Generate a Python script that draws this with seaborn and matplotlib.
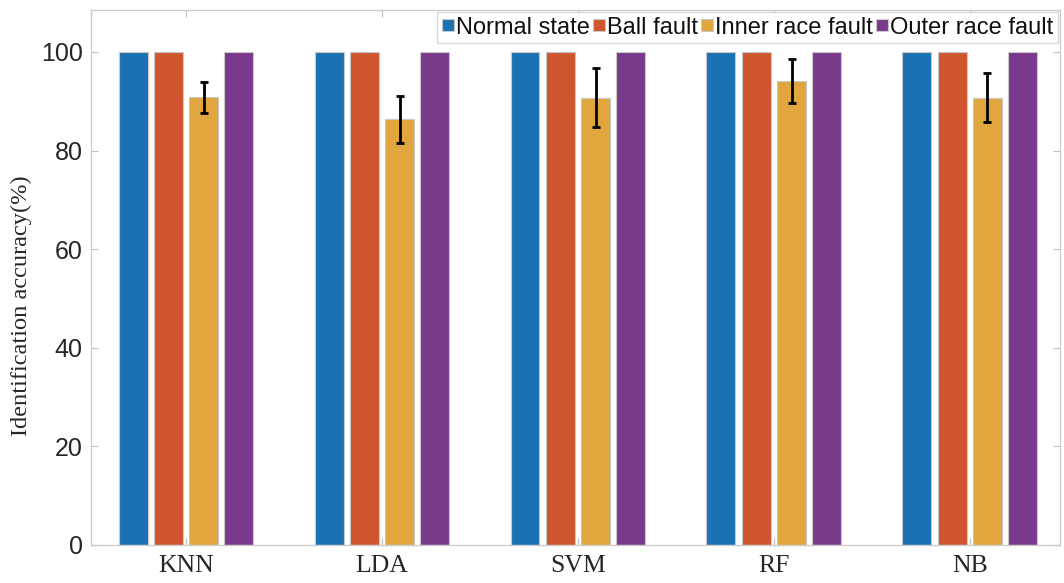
import matplotlib
matplotlib.use("Agg")
import matplotlib.pyplot as plt
import seaborn as sns
import pandas as pd
import numpy as np

methods = ["KNN", "LDA", "SVM", "RF", "NB"]
states = ["Normal state", "Ball fault", "Inner race fault", "Outer race fault"]
normal = [100, 100, 100, 100, 100]
ball = [100, 100, 100, 100, 100]
inner = [90.8, 86.3, 90.7, 94.1, 90.7]
outer = [100, 100, 100, 100, 100]
inner_err = [3.2, 4.8, 6.0, 4.4, 5.0]
colors = ["#1a72b5", "#cf562f", "#e1a63d", "#7a3a8c"]

rows = []
for s, vals in zip(states, [normal, ball, inner, outer]):
    for m, v in zip(methods, vals):
        rows.append({"Method": m, "State": s, "Accuracy": v})
df = pd.DataFrame(rows)

sns.set_style("white")
plt.rcParams["font.family"] = ["Liberation Sans", "DejaVu Sans"]

fig = plt.figure(figsize=(10.64, 5.83), dpi=100)
ax = fig.add_axes([0.0855, 0.0652, 0.9107, 0.9176])

sns.barplot(data=df, x="Method", y="Accuracy", hue="State", order=methods,
            hue_order=states, palette=colors, saturation=1, width=0.72, gap=0.18,
            errorbar=None, edgecolor="#c8c8c8", linewidth=0.8, ax=ax)

# error bars on inner race fault bars
inner_patches = ax.containers[2]
xs = [p.get_x() + p.get_width() / 2 for p in inner_patches]
ax.errorbar(xs, inner, yerr=inner_err, fmt="none", ecolor="black",
            elinewidth=2, capsize=3, capthick=2, zorder=5)

ax.set_xlim(-0.485, 4.46)
ax.set_ylim(0, 108.5)
ax.set_yticks([0, 20, 40, 60, 80, 100])
ax.set_xlabel("")
ax.set_ylabel("Identification accuracy(%)", fontfamily="Liberation Serif",
              fontsize=17.6, color="#262626", labelpad=6)
ax.yaxis.label.set_y(0.447)

for sp in ax.spines.values():
    sp.set_visible(True)
    sp.set_color("#cccccc")
    sp.set_linewidth(1)

ax.tick_params(axis="both", direction="in", length=5, width=0.8, color="#c0c0c0",
               top=True, right=True, bottom=True, left=True)
ax.tick_params(axis="y", labelsize=18, labelcolor="#262626", pad=6)
ax.tick_params(axis="x", labelsize=18.5, labelcolor="#262626", pad=7)
for lab in ax.get_xticklabels():
    lab.set_fontfamily("Liberation Serif")

leg = ax.legend(loc="upper right", ncol=4, fontsize=17, frameon=True,
                fancybox=False, edgecolor="#d0d0d0", borderpad=0.2,
                handlelength=0.5, handleheight=0.4, handletextpad=0.1,
                columnspacing=0.12, borderaxespad=0.08)
leg.get_frame().set_linewidth(1)
for t in leg.get_texts():
    t.set_color("#111111")

fig.savefig("out.png", dpi=100)
